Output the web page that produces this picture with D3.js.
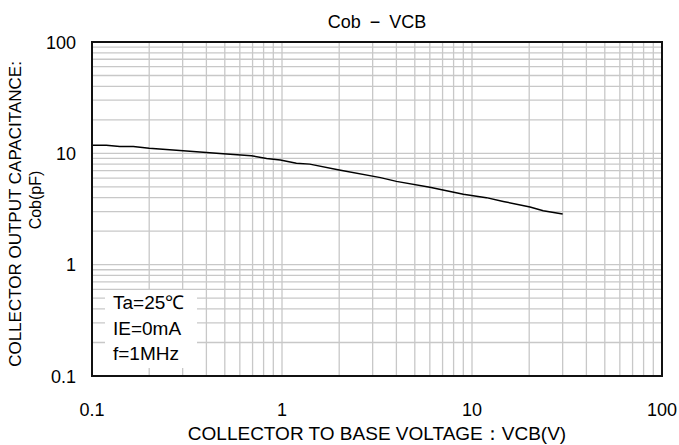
<!DOCTYPE html>
<html>
<head>
<meta charset="utf-8">
<script src="https://cdn.jsdelivr.net/npm/d3@7"></script>
<style>
  body { margin: 0; background: #fff; }
  text { font-family: "Liberation Sans", Arial, sans-serif; fill: #000; }
</style>
</head>
<body>
<div id="chart"></div>
<script>
var vcb = [0.1, 0.119, 0.14, 0.165, 0.2, 0.29, 0.49, 0.69, 0.83, 0.98, 1.19, 1.4, 2.0, 3.3, 4.0, 6.0, 9.0, 11.9, 14.6, 20.2, 23.7, 30];
var cob = [11.8, 11.8, 11.5, 11.5, 11.1, 10.6, 9.9, 9.5, 9.0, 8.7, 8.15, 8.0, 7.1, 6.05, 5.6, 4.95, 4.3, 4.0, 3.7, 3.3, 3.05, 2.85];
var xTicks = [0.1, 1, 10, 100];
var yTicks = [0.1, 1, 10, 100];
var conditions = ['Ta=25\u2103', 'IE=0mA', 'f=1MHz'];

var width = 679;
var height = 445;
var plotL = 92, plotR = 662, plotT = 42, plotB = 376;

var svg = d3.select('#chart')
  .append('svg')
  .attr('width', width)
  .attr('height', height);

var x = d3.scaleLog().domain([0.1, 100]).range([plotL, plotR]);
var y = d3.scaleLog().domain([0.1, 100]).range([plotB, plotT]);

// grid lines at 2..9 of every decade plus 1 and 10
var gridVals = [];
[0.1, 1, 10].forEach(function(d) {
  for (var k = 2; k <= 9; k++) gridVals.push(d * k);
});
gridVals = gridVals.concat([1, 10]);

svg.append('g').selectAll('line')
  .data(gridVals)
  .enter().append('line')
  .attr('x1', function(d) { return x(d); })
  .attr('x2', function(d) { return x(d); })
  .attr('y1', plotT)
  .attr('y2', plotB)
  .attr('stroke', '#c8c8c8')
  .attr('stroke-width', 1.3);

svg.append('g').selectAll('line')
  .data(gridVals)
  .enter().append('line')
  .attr('y1', function(d) { return y(d); })
  .attr('y2', function(d) { return y(d); })
  .attr('x1', plotL)
  .attr('x2', plotR)
  .attr('stroke', '#c8c8c8')
  .attr('stroke-width', 1.3);

// conditions box
svg.append('rect')
  .attr('x', 105).attr('y', 290)
  .attr('width', 92).attr('height', 78)
  .attr('fill', '#fff');

svg.append('g').selectAll('text')
  .data(conditions)
  .enter().append('text')
  .attr('x', 113)
  .attr('y', function(d, i) { return 309 + i * 25.5; })
  .attr('font-size', 19)
  .text(function(d) { return d; });

// curve
var line = d3.line()
  .x(function(d) { return x(d[0]); })
  .y(function(d) { return y(d[1]); });

svg.append('path')
  .datum(d3.zip(vcb, cob))
  .attr('d', line)
  .attr('fill', 'none')
  .attr('stroke', '#000')
  .attr('stroke-width', 1.5);

// frame
svg.append('rect')
  .attr('x', plotL).attr('y', plotT)
  .attr('width', plotR - plotL).attr('height', plotB - plotT)
  .attr('fill', 'none')
  .attr('stroke', '#111')
  .attr('stroke-width', 2);

// tick labels
svg.append('g').selectAll('text')
  .data(xTicks)
  .enter().append('text')
  .attr('x', function(d) { return x(d); })
  .attr('y', 416)
  .attr('text-anchor', 'middle')
  .attr('font-size', 18)
  .text(function(d) { return d; });

svg.append('g').selectAll('text')
  .data(yTicks)
  .enter().append('text')
  .attr('x', 76)
  .attr('y', function(d) { return y(d) + 6.5; })
  .attr('text-anchor', 'end')
  .attr('font-size', 18)
  .text(function(d) { return d; });

// titles
svg.append('text')
  .attr('x', (plotL + plotR) / 2)
  .attr('y', 28)
  .attr('text-anchor', 'middle')
  .attr('font-size', 18)
  .text('Cob\u2002\u2212\u2002VCB');

svg.append('text')
  .attr('x', (plotL + plotR) / 2)
  .attr('y', 440)
  .attr('text-anchor', 'middle')
  .attr('font-size', 19)
  .text('COLLECTOR TO BASE VOLTAGE\uFF1AVCB(V)');

svg.append('text')
  .attr('transform', 'translate(21,214) rotate(-90)')
  .attr('text-anchor', 'middle')
  .attr('font-size', 17)
  .text('COLLECTOR OUTPUT CAPACITANCE:');

svg.append('text')
  .attr('transform', 'translate(41,200) rotate(-90)')
  .attr('text-anchor', 'middle')
  .attr('font-size', 16)
  .text('Cob(pF)');
</script>
</body>
</html>
